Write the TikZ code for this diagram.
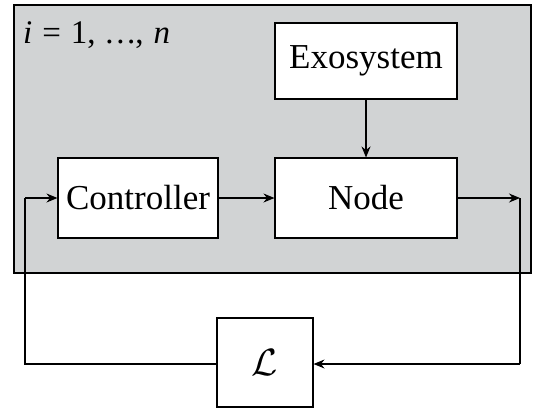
\RequirePackage{fix-cm}
\documentclass[tikz,border=0pt]{standalone}
\usepackage{fontspec}
\setmainfont{Liberation Serif}
\usetikzlibrary{arrows.meta}
\definecolor{panelgray}{RGB}{209,211,212}
\begin{document}
\begin{tikzpicture}[x=1pt,y=-1pt,
  block/.style={draw, fill=white, line width=1.1pt, inner sep=0pt,
    font=\fontsize{35}{39}\selectfont},
  wire/.style={line width=1.1pt, -{Stealth[length=11pt,width=9pt]}},
  plainwire/.style={line width=1.1pt}]
  \useasboundingbox (0,0) rectangle (534,408);
  % shaded panel holding the agent loop
  \draw[fill=panelgray, line width=1.1pt] (14,5) rectangle (531,273);
  \node[anchor=base west, inner sep=0pt, font=\fontsize{33}{36}\selectfont] (idx) at (23,43)
    {\textit{i}\hspace{0.3em}=\hspace{0.3em}1,\hspace{0.3em}.\hspace{0.08em}.\hspace{0.08em}.,\hspace{0.3em}\textit{n}};
  % blocks
  \node[block, minimum width=182pt, minimum height=76pt] (exo) at (366,61) {Exosystem};
  \node[block, minimum width=160pt, minimum height=80pt] (ctrl) at (138,198) {Controller};
  \node[block, minimum width=182pt, minimum height=80pt] (node) at (366,198) {Node};
  \node[block, minimum width=96pt, minimum height=89pt,
    font=\fontsize{38}{42}\selectfont] (lap) at (265,362.5) {$\mathcal{L}$};
  % corner points of the feedback loop
  \coordinate (outR) at (520,198);
  \coordinate (botR) at (520,364);
  \coordinate (botL) at (25,364);
  \coordinate (inL) at (25,198);
  % connectors
  \draw[wire] (exo) -- (node);
  \draw[wire] (ctrl) -- (node);
  \draw[wire] (node.east) -- (outR);
  \draw[plainwire] (outR) -- (botR);
  \draw[wire] (botR) -- (lap.east |- botR);
  \draw[plainwire] (lap.west |- botL) -- (botL) -- (inL);
  \draw[wire] (inL) -- (ctrl.west);
\end{tikzpicture}
\end{document}
